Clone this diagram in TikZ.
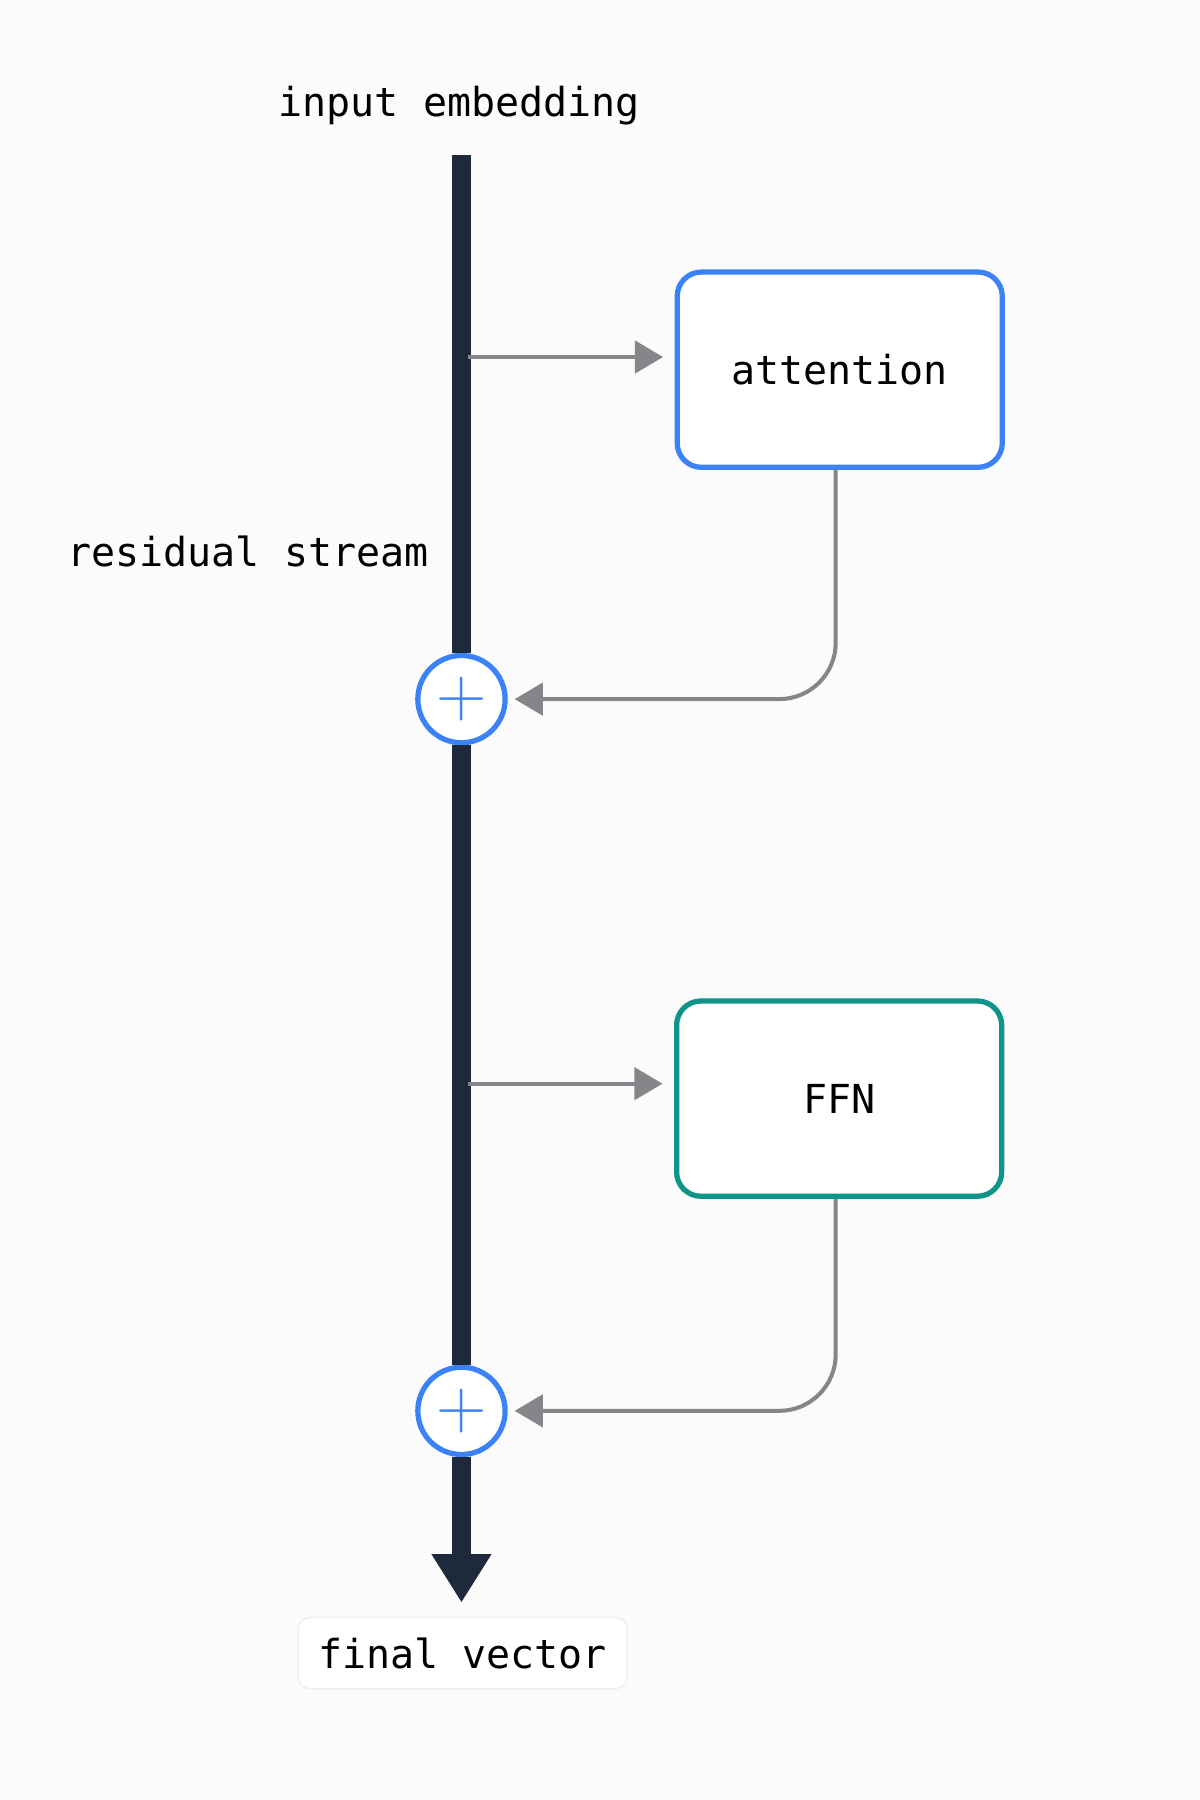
\documentclass[tikz,border=0pt]{standalone}
\usepackage{fontspec}
\setmonofont{DejaVu Sans Mono}
\usetikzlibrary{arrows.meta,positioning}
\definecolor{Stream}{HTML}{1E293B}
\definecolor{AttBlue}{HTML}{3B82F6}
\definecolor{FfnTeal}{HTML}{0F9488}
\definecolor{Wire}{HTML}{85868A}
\begin{document}
\begin{tikzpicture}[x=0.01cm,y=-0.01cm,
	Label/.style	= {font=\ttfamily\fontsize{9.9}{12}\selectfont, text=black},
	Block/.style	= {draw, line width=1.3pt, rounded corners=6pt, minimum width=2.83cm, minimum height=1.7cm, fill=white, Label},
	Plus/.style	= {circle, draw=AttBlue, line width=1.3pt, fill=white, minimum size=0.76cm, inner sep=0pt, text=AttBlue, font=\fontsize{16}{16}\selectfont},
	Wire/.style	= {draw=Wire, line width=1pt, -{Triangle[length=7pt,width=8pt]}},
	Stream/.style	= {draw=Stream, line width=4.5pt}]
	\fill[white!97!gray] (0,0) rectangle (1045,1568);

	\node (emb) at (400,92) [Label] {input embedding};
	\node (res) at (216,480) [Label] {residual stream};
	\node (out) at (403,1440) [Label, draw=gray!12, rounded corners=3pt, fill=white, inner sep=5pt] {final vector};

	\node (att) at (731.5,322) [Block, draw=AttBlue] {attention};
	\node (ffn) at (731,957) [Block, draw=FfnTeal] {FFN};
	\node (p1) at (402,609) [Plus] {$+$};
	\node (p2) at (402,1229) [Plus] {$+$};
	\coordinate (top) at (402,135);
	\coordinate (tip) at (402,1396);
	\coordinate (a1) at (408,311);
	\coordinate (a2) at (408,944);

	% residual stream
	\draw [Stream] (top) -- (p1);
	\draw [Stream] (p1) -- (p2);
	\draw [Stream, -{Triangle[length=12pt,width=14pt]}] (p2) -- (tip);

	% branches
	\draw [Wire, shorten >=1mm] (a1) -- (att.west |- a1);
	\draw [Wire, rounded corners=14pt, shorten >=0.6mm] (att.south -| 728,0) -- (728,609) -- (p1.east);
	\draw [Wire, shorten >=1mm] (a2) -- (ffn.west |- a2);
	\draw [Wire, rounded corners=14pt, shorten >=0.6mm] (ffn.south -| 728,0) -- (728,1229) -- (p2.east);
\end{tikzpicture}
\end{document}
